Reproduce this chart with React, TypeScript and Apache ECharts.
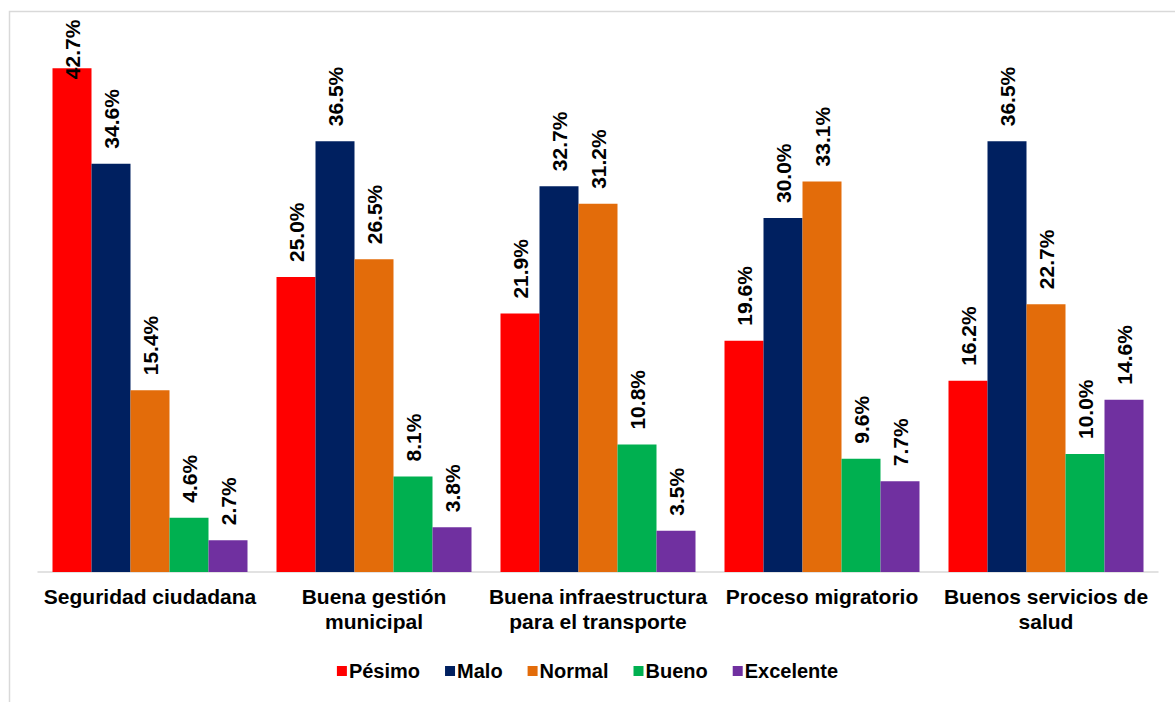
import React, { useEffect, useRef } from "react";
import * as echarts from "echarts";

const categories = [
  "Seguridad ciudadana",
  "Buena gestión\nmunicipal",
  "Buena infraestructura\npara el transporte",
  "Proceso migratorio",
  "Buenos servicios de\nsalud",
];

const seriesNames = ["Pésimo", "Malo", "Normal", "Bueno", "Excelente"];
const pesimo = [42.7, 25.0, 21.9, 19.6, 16.2];
const malo = [34.6, 36.5, 32.7, 30.0, 36.5];
const normal = [15.4, 26.5, 31.2, 33.1, 22.7];
const bueno = [4.6, 8.1, 10.8, 9.6, 10.0];
const excelente = [2.7, 3.8, 3.5, 7.7, 14.6];
const colors = ["#FF0000", "#002060", "#E36C0A", "#00B050", "#7030A0"];

const FONT = "'Liberation Sans', Arial, sans-serif";

export default function App() {
  const ref = useRef<HTMLDivElement>(null);

  useEffect(() => {
    if (!ref.current) return;
    const chart = echarts.init(ref.current, undefined, { renderer: "svg" });
    const values = [pesimo, malo, normal, bueno, excelente];

    const series = values.map((vals, i) => ({
      name: seriesNames[i],
      type: "bar" as const,
      barWidth: 39,
      barGap: "0%",
      itemStyle: { color: colors[i] },
      data: vals.map((v) =>
        // the tallest bar keeps its label tucked against its top edge
        v > 40 ? { value: v, label: { distance: -11 } } : v
      ),
      label: {
        show: true,
        position: "top",
        rotate: 90,
        align: "left",
        verticalAlign: "middle",
        distance: 15,
        fontFamily: FONT,
        fontWeight: "bold",
        fontSize: 21,
        color: "#000",
        formatter: (p: any) => Number(p.value).toFixed(1) + "%",
      },
    }));

    chart.setOption({
      animation: false,
      backgroundColor: "#fff",
      color: colors,
      graphic: [
        {
          type: "rect",
          shape: { x: 9.5, y: 11.5, width: 1200, height: 720 },
          style: { fill: "none", stroke: "#d9d9d9", lineWidth: 1.5 },
          silent: true,
        },
      ],
      grid: { left: 38, right: 17, top: 41, bottom: 130 },
      legend: {
        bottom: 16,
        left: "center",
        icon: "rect",
        itemWidth: 10,
        itemHeight: 10,
        itemGap: 25,
        textStyle: {
          fontFamily: FONT,
          fontWeight: "bold",
          fontSize: 20,
          color: "#000",
          padding: [0, 0, 0, -3],
        },
        data: seriesNames,
      },
      xAxis: {
        type: "category",
        data: categories,
        axisLine: { lineStyle: { color: "#d9d9d9", width: 1.5 } },
        axisTick: { show: false },
        axisLabel: {
          interval: 0,
          margin: 12,
          fontFamily: FONT,
          fontWeight: "bold",
          fontSize: 21,
          lineHeight: 25,
          color: "#000",
        },
      },
      yAxis: {
        type: "value",
        min: 0,
        max: 45,
        show: false,
        splitLine: { show: false },
      },
      series,
    });

    return () => chart.dispose();
  }, []);

  return (
    <div
      ref={ref}
      style={{ position: "fixed", left: 0, top: 0, width: 1175, height: 702 }}
    />
  );
}
